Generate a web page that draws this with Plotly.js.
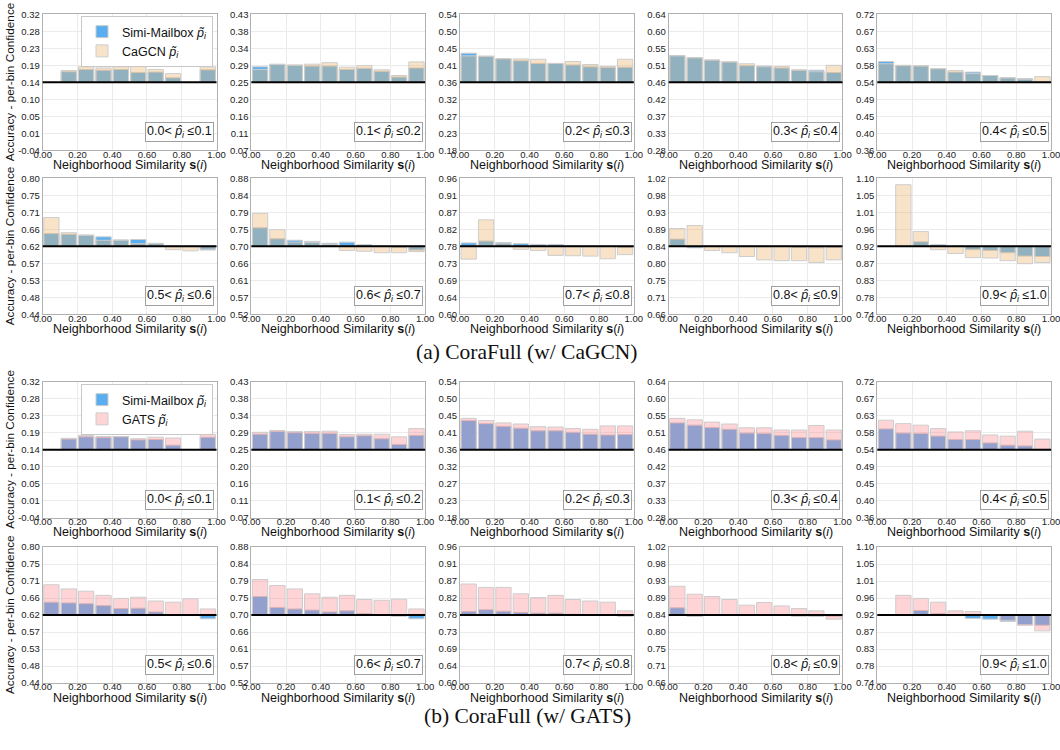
<!DOCTYPE html>
<html><head><meta charset="utf-8">
<script src="https://cdn.plot.ly/plotly-3.0.1.min.js"></script>
<style>html,body{margin:0;padding:0;background:#fff}#chart{width:1060px;height:750px}</style>
</head><body><div id="chart"></div>
<script>
// ---- data ----
const binCenters = [0.05, 0.15, 0.25, 0.35, 0.45, 0.55, 0.65, 0.75, 0.85, 0.95];
const xTickVals = [0, 0.2, 0.4, 0.6, 0.8, 1.0];
const xTickLabels = ['0.00', '0.20', '0.40', '0.60', '0.80', '1.00'];
const confEdges = ['0.0', '0.1', '0.2', '0.3', '0.4', '0.5', '0.6', '0.7', '0.8', '0.9', '1.0'];
const baselines = [0.14, 0.25, 0.36, 0.46, 0.54, 0.62, 0.70, 0.78, 0.84, 0.92];

const yTicksP1 = ['-0.04', '0.01', '0.05', '0.10', '0.14', '0.19', '0.23', '0.28', '0.32'];
const yTicksP2 = ['0.07', '0.11', '0.16', '0.20', '0.25', '0.29', '0.34', '0.38', '0.43'];
const yTicksP3 = ['0.18', '0.23', '0.27', '0.32', '0.36', '0.41', '0.45', '0.50', '0.54'];
const yTicksP4 = ['0.28', '0.33', '0.37', '0.42', '0.46', '0.51', '0.55', '0.60', '0.64'];
const yTicksP5 = ['0.36', '0.40', '0.45', '0.49', '0.54', '0.58', '0.63', '0.67', '0.72'];
const yTicksP6 = ['0.44', '0.48', '0.53', '0.57', '0.62', '0.66', '0.71', '0.75', '0.80'];
const yTicksP7 = ['0.52', '0.57', '0.61', '0.66', '0.70', '0.75', '0.79', '0.84', '0.88'];
const yTicksP8 = ['0.60', '0.64', '0.69', '0.73', '0.78', '0.82', '0.87', '0.91', '0.96'];
const yTicksP9 = ['0.66', '0.71', '0.75', '0.80', '0.84', '0.89', '0.93', '0.98', '1.02'];
const yTicksP10 = ['0.74', '0.78', '0.83', '0.87', '0.92', '0.96', '1.01', '1.05', '1.10'];

// Simi-Mailbox (shared by both groups)
const simiP1 = [null, 0.168, 0.174, 0.172, 0.174, 0.166, 0.167, 0.152, null, 0.173];
const simiP2 = [0.291, 0.298, 0.295, 0.293, 0.293, 0.284, 0.287, 0.279, 0.264, 0.288];
const simiP3 = [0.437, 0.429, 0.422, 0.417, 0.410, 0.410, 0.406, 0.401, 0.399, 0.400];
const simiP4 = [0.531, 0.525, 0.519, 0.514, 0.504, 0.503, 0.498, 0.492, 0.492, 0.486];
const simiP5 = [0.595, 0.584, 0.583, 0.576, 0.567, 0.567, 0.558, 0.552, 0.550, 0.541];
const simiP6 = [0.654, 0.652, 0.650, 0.645, 0.637, 0.638, 0.628, 0.620, 0.620, 0.610];
const simiP7 = [0.749, 0.720, 0.716, 0.713, 0.708, 0.711, 0.704, 0.700, 0.697, 0.690];
const simiP8 = [0.789, 0.794, 0.790, 0.787, 0.785, 0.785, 0.782, 0.780, 0.780, 0.777];
const simiP9 = [0.859, 0.836, 0.840, 0.840, 0.840, 0.840, 0.840, 0.837, 0.836, 0.837];
const simiP10 = [null, null, 0.932, 0.924, 0.920, 0.911, 0.909, 0.903, 0.894, 0.893];

// CaGCN
const cagcnP1 = [null, 0.171, 0.181, 0.178, 0.181, 0.192, 0.174, 0.163, null, 0.181];
const cagcnP2 = [0.284, 0.297, 0.296, 0.298, 0.302, 0.290, 0.294, 0.283, 0.268, 0.304];
const cagcnP3 = [0.430, 0.429, 0.423, 0.422, 0.421, 0.410, 0.415, 0.407, 0.402, 0.421];
const cagcnP4 = [0.530, 0.525, 0.519, 0.514, 0.509, 0.501, 0.502, 0.493, 0.488, 0.505];
const cagcnP5 = [0.589, 0.585, 0.584, 0.576, 0.571, 0.563, 0.558, 0.552, 0.548, 0.555];
const cagcnP6 = [0.696, 0.656, 0.649, 0.636, 0.636, 0.627, 0.627, 0.611, 0.608, 0.612];
const cagcnP7 = [0.787, 0.744, 0.711, 0.710, 0.705, 0.689, 0.687, 0.683, 0.683, 0.686];
const cagcnP8 = [0.746, 0.850, 0.788, 0.772, 0.769, 0.756, 0.755, 0.754, 0.747, 0.758];
const cagcnP9 = [0.887, 0.895, 0.829, 0.823, 0.813, 0.804, 0.802, 0.802, 0.797, 0.804];
const cagcnP10 = [null, 1.083, 0.959, 0.911, 0.901, 0.890, 0.889, 0.882, 0.874, 0.877];

// GATS
const gatsP1 = [null, 0.170, 0.178, 0.175, 0.175, 0.169, 0.173, 0.171, null, 0.181];
const gatsP2 = [0.296, 0.301, 0.298, 0.298, 0.299, 0.290, 0.291, 0.291, 0.284, 0.306];
const gatsP3 = [0.443, 0.437, 0.431, 0.428, 0.421, 0.420, 0.416, 0.414, 0.423, 0.423];
const gatsP4 = [0.543, 0.539, 0.533, 0.528, 0.518, 0.518, 0.512, 0.512, 0.524, 0.512];
const gatsP5 = [0.618, 0.609, 0.605, 0.596, 0.587, 0.590, 0.579, 0.576, 0.589, 0.568];
const gatsP6 = [0.700, 0.689, 0.683, 0.672, 0.664, 0.667, 0.657, 0.654, 0.663, 0.636];
const gatsP7 = [0.794, 0.778, 0.769, 0.756, 0.747, 0.752, 0.741, 0.739, 0.742, 0.716];
const gatsP8 = [0.862, 0.853, 0.853, 0.836, 0.826, 0.832, 0.821, 0.817, 0.814, 0.791];
const gatsP9 = [0.916, 0.895, 0.889, 0.881, 0.866, 0.873, 0.864, 0.857, 0.851, 0.829];
const gatsP10 = [null, 0.972, 0.964, 0.954, 0.931, 0.929, 0.920, 0.906, 0.893, 0.878];

const captions = ['(a) CoraFull (w/ CaGCN)', '(b) CoraFull (w/ GATS)'];
const xTitle = 'Neighborhood Similarity <b>s</b>(<i>i</i>)';
const yTitle = 'Accuracy - per-bin Confidence';

// ---- assembly ----
const simi = [simiP1, simiP2, simiP3, simiP4, simiP5, simiP6, simiP7, simiP8, simiP9, simiP10];
const cagcn = [cagcnP1, cagcnP2, cagcnP3, cagcnP4, cagcnP5, cagcnP6, cagcnP7, cagcnP8, cagcnP9, cagcnP10];
const gats = [gatsP1, gatsP2, gatsP3, gatsP4, gatsP5, gatsP6, gatsP7, gatsP8, gatsP9, gatsP10];
const yTicks = [yTicksP1, yTicksP2, yTicksP3, yTicksP4, yTicksP5, yTicksP6, yTicksP7, yTicksP8, yTicksP9, yTicksP10];

const W = 1060, H = 750;
const colLeft = [42.7, 251.35, 460, 668.65, 877.3], colW = 173.8;
const rowTop = [14.3, 178.3, 381.7, 547], rowH = 136;

const BLUE = 'rgba(90,174,239,1)';
const TAN = 'rgba(240,182,110,0.38)';
const PINK = 'rgba(254,131,140,0.35)';
const EDGE = 'rgba(205,205,205,1)';

const traces = [], shapes = [], annotations = [];
const layout = {
  width: W, height: H, margin: {l: 0, r: 0, t: 0, b: 0},
  paper_bgcolor: '#fff', plot_bgcolor: '#fff',
  barmode: 'overlay', showlegend: true,
  font: {family: 'Liberation Sans, Arial, sans-serif', color: '#222'},
};

for (let r = 0; r < 4; r++) {
  const yc = 1 - (rowTop[r] + rowH / 2) / H;
  annotations.push({
    xref: 'paper', yref: 'paper', x: 10 / W, y: yc, xanchor: 'center', yanchor: 'middle',
    textangle: -90, showarrow: false, text: yTitle, font: {size: 11.8, color: '#111'}
  });
  for (let c = 0; c < 5; c++) {
    const n = r * 5 + c + 1;
    const p = (r % 2) * 5 + c;
    const g = r < 2 ? 0 : 1;
    const base = baselines[p];
    const xa = 'x' + n, ya = 'y' + n;
    const other = g === 0 ? cagcn[p] : gats[p];
    const otherName = g === 0 ? 'CaGCN <i>p̃</i><sub><i>i</i></sub>' : 'GATS <i>p̃</i><sub><i>i</i></sub>';
    const legendId = g === 0 ? 'legend' : 'legend2';
    const first = (c === 0 && r % 2 === 0);

    traces.push({
      type: 'bar', x: binCenters, y: simi[p].map(v => v == null ? null : v - base), base: base,
      width: 0.088, xaxis: xa, yaxis: ya, name: 'Simi-Mailbox <i>p̃</i><sub><i>i</i></sub>',
      marker: {color: BLUE, line: {color: EDGE, width: 1}},
      showlegend: first, legend: legendId, hoverinfo: 'skip'
    });
    traces.push({
      type: 'bar', x: binCenters, y: other.map(v => v == null ? null : v - base), base: base,
      width: 0.088, xaxis: xa, yaxis: ya, name: otherName,
      marker: {color: g === 0 ? TAN : PINK, line: {color: EDGE, width: 1}},
      showlegend: first, legend: legendId, hoverinfo: 'skip'
    });

    const x0 = colLeft[c] / W, x1 = (colLeft[c] + colW) / W;
    const y1 = 1 - rowTop[r] / H, y0 = 1 - (rowTop[r] + rowH) / H;
    const tickVals = yTicks[p].map((_, k) => base + (k - 4) * 0.045);

    layout['xaxis' + n] = {
      domain: [x0, x1], anchor: ya, range: [0, 1],
      tickvals: xTickVals, ticktext: xTickLabels, ticks: '',
      ticklabelstandoff: -5, ticklabeloverflow: 'allow',
      tickfont: {size: 9.5, color: '#222'},
      showgrid: true, gridcolor: '#ebebeb', zeroline: false,
      showline: true, mirror: true, linecolor: '#b0b0b0', linewidth: 1,
      fixedrange: true
    };
    layout['yaxis' + n] = {
      domain: [y0, y1], anchor: xa, range: [base - 0.18, base + 0.18],
      tickvals: tickVals, ticktext: yTicks[p], ticks: '',
      ticklabeloverflow: 'allow',
      tickfont: {size: 9.5, color: '#222'},
      showgrid: true, gridcolor: '#ebebeb', zeroline: false,
      showline: true, mirror: true, linecolor: '#b0b0b0', linewidth: 1,
      fixedrange: true
    };

    shapes.push({
      type: 'line', xref: xa + ' domain', yref: ya, x0: 0, x1: 1, y0: base, y1: base,
      line: {color: '#000', width: 2}, layer: 'above'
    });

    annotations.push({
      xref: 'paper', yref: 'paper', x: (colLeft[c] + colW / 2) / W, y: 1 - (rowTop[r] + rowH + 14.5) / H,
      xanchor: 'center', yanchor: 'middle', showarrow: false,
      text: xTitle, font: {size: 12.5, color: '#111'}
    });

    annotations.push({
      xref: xa + ' domain', yref: ya + ' domain', x: 0.988, y: 0.06,
      xanchor: 'right', yanchor: 'bottom', showarrow: false,
      text: confEdges[p] + '< <i>p̂</i><sub><i>i</i></sub> ≤' + confEdges[p + 1],
      font: {size: 12.5, color: '#111'},
      bgcolor: '#fff', bordercolor: '#a0a0a0', borderwidth: 1, borderpad: 1
    });
  }
}

annotations.push({xref: 'paper', yref: 'paper', x: 527 / W, y: 1 - 352 / H, xanchor: 'center', yanchor: 'middle',
  showarrow: false, text: captions[0], font: {family: 'Liberation Serif, serif', size: 21.5, color: '#111'}});
annotations.push({xref: 'paper', yref: 'paper', x: 527 / W, y: 1 - 716 / H, xanchor: 'center', yanchor: 'middle',
  showarrow: false, text: captions[1], font: {family: 'Liberation Serif, serif', size: 21.5, color: '#111'}});

const legendStyle = {
  xanchor: 'right', yanchor: 'top', bgcolor: '#fff', bordercolor: '#c8c8c8', borderwidth: 1,
  font: {size: 12.5, color: '#111'}, traceorder: 'normal', itemwidth: 30
};
layout.legend = Object.assign({x: 213 / W, y: 1 - 16 / H}, legendStyle);
layout.legend2 = Object.assign({x: 213 / W, y: 1 - 384 / H}, legendStyle);
layout.shapes = shapes;
layout.annotations = annotations;

Plotly.newPlot('chart', traces, layout, {staticPlot: true, displayModeBar: false});
</script>
</body></html>
